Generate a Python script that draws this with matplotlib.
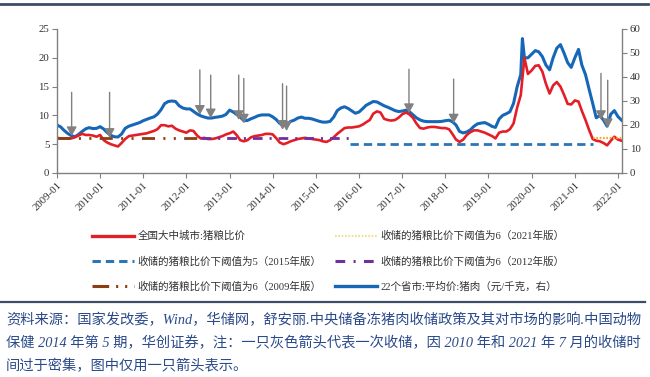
import matplotlib
matplotlib.use('Agg')
import matplotlib.pyplot as plt
import matplotlib.dates as mdates
from matplotlib.lines import Line2D
import pandas as pd

plt.rcParams['lines.scale_dashes'] = False
SERIF = ['Liberation Serif', 'Noto Sans CJK SC', 'DejaVu Sans']
CJK = ['Liberation Serif', 'Noto Sans CJK SC', 'DejaVu Sans']

# ---------------- data (monthly, 2009-01 .. 2022-02) ----------------
months = pd.date_range('2009-01-01', '2022-02-01', freq='MS')

ratio = [  # 全国大中城市:猪粮比价 (left axis)
    6.1, 6.0, 6.0, 6.0, 6.0, 6.2, 6.5, 6.8, 6.6, 6.6, 6.5, 6.3,       # 2009
    6.6, 5.7, 5.3, 5.0, 4.8, 4.6, 5.2, 5.9, 6.4, 6.5, 6.6, 6.7,       # 2010
    6.8, 6.9, 7.1, 7.3, 7.6, 8.3, 8.3, 8.1, 8.2, 7.7, 7.4, 7.2,       # 2011
    7.0, 7.4, 7.3, 6.5, 6.0, 6.1, 5.9, 5.9, 6.0, 6.2, 6.4, 6.7,       # 2012
    6.9, 7.2, 6.6, 5.7, 5.5, 5.7, 6.2, 6.4, 6.5, 6.6, 6.8, 6.8,       # 2013
    6.7, 6.0, 5.3, 5.0, 5.2, 5.5, 5.7, 5.9, 6.0, 6.1, 6.0, 5.9,       # 2014
    5.8, 5.7, 5.5, 5.4, 5.7, 6.2, 6.8, 7.3, 7.8, 7.9, 7.9, 8.0,       # 2015
    8.1, 8.4, 8.8, 9.2, 10.3, 10.7, 10.5, 9.4, 9.2, 9.1, 9.2, 9.6,    # 2016
    10.2, 10.5, 10.2, 9.6, 8.6, 7.8, 7.7, 7.9, 8.0, 8.0, 7.9, 7.8,    # 2017
    7.8, 7.6, 6.8, 5.8, 5.4, 5.8, 6.6, 7.1, 7.4, 7.4, 7.2, 7.0,       # 2018
    6.7, 6.4, 6.0, 7.0, 7.2, 7.2, 7.6, 8.6, 11.4, 13.5, 20.0, 17.2,   # 2019
    17.8, 18.6, 18.7, 17.6, 15.5, 13.8, 15.2, 15.8, 15.0, 13.6, 12.0, 11.9,  # 2020
    12.6, 12.4, 10.8, 9.2, 7.5, 5.9, 5.6, 5.5, 5.2, 4.8, 5.6, 6.3,    # 2021
    5.8, 5.6,                                                         # 2022
]
pork = [  # 22个省市:平均价:猪肉 (元/千克, right axis)
    20.0, 19.2, 17.8, 16.5, 15.6, 15.1, 16.0, 17.3, 18.4, 18.9, 18.5, 18.6,
    19.3, 18.3, 16.9, 15.7, 15.1, 15.0, 16.2, 18.6, 19.5, 20.0, 20.5, 21.0,
    21.8, 22.4, 22.9, 23.4, 24.5, 26.4, 28.9, 29.8, 30.0, 29.8, 28.0, 27.1,
    26.7, 26.7, 25.7, 24.6, 23.8, 23.3, 22.9, 22.9, 23.2, 23.4, 23.7, 24.4,
    26.2, 25.4, 24.4, 23.3, 21.8, 21.9, 22.6, 23.2, 23.9, 24.2, 24.2, 24.2,
    23.4, 22.2, 20.7, 19.7, 20.2, 21.5, 22.0, 22.9, 23.3, 22.8, 22.8, 22.5,
    22.0, 21.5, 21.2, 21.2, 21.5, 23.3, 26.0, 27.1, 27.6, 26.9, 25.9, 24.9,
    25.4, 26.8, 28.2, 29.0, 29.8, 29.6, 28.8, 28.0, 27.4, 26.7, 26.0, 25.6,
    25.8, 26.2, 25.6, 24.3, 23.0, 22.1, 21.6, 21.4, 21.4, 21.4, 21.4, 21.5,
    21.8, 22.0, 21.4, 20.0, 17.3, 16.7, 17.1, 18.0, 19.5, 20.5, 20.8, 21.0,
    20.3, 19.4, 19.0, 22.5, 24.0, 24.7, 25.5, 29.0, 36.0, 41.0, 48.0, 48.0,
    49.5, 51.0, 50.5, 48.5, 45.0, 43.0, 48.0, 52.0, 53.5, 50.0, 46.0, 44.0,
    48.0, 51.5, 45.0, 41.0, 35.0, 29.0, 23.0, 24.0, 22.0, 19.5, 24.5, 26.0,
    23.5, 22.0,
]
spike_date = '2019-10-15'   # the Oct-2019 peak between monthly readings
ratio_spike = 16.5
pork_spike = 56.0

# 收储的猪粮比价下阈值 (start, end, value)
th_2009 = ('2009-01-01', '2012-04-20', 6)
th_2012 = ('2012-05-01', '2015-10-10', 6)
th_2015 = ('2015-10-20', '2021-06-05', 5)
th_2021 = ('2021-06-05', '2022-02-01', 6)

# 收储 arrows (date, top, tip) in left-axis units
arrow_dates = ['2009-05-05', '2010-03-22', '2012-04-24', '2012-07-25', '2013-03-19',
               '2013-05-01', '2014-03-25', '2014-04-28', '2017-02-27', '2018-03-12',
               '2021-08-10', '2021-10-06']
arrow_top = [14.0, 14.0, 17.9, 17.0, 17.0, 16.4, 15.5, 15.1, 18.0, 16.3, 17.3, 16.1]
arrow_tip = [6.4, 6.1, 10.1, 9.5, 9.2, 8.6, 7.5, 7.3, 10.4, 8.6, 9.2, 7.8]

labels = ['全国大中城市:猪粮比价',
          '收储的猪粮比价下阈值为5（2015年版）',
          '收储的猪粮比价下阈值为6（2009年版）',
          '收储的猪粮比价下阈值为6（2021年版）',
          '收储的猪粮比价下阈值为6（2012年版）',
          '22个省市:平均价:猪肉（元/千克，右）']

source_lines = ['资料来源：国家发改委，Wind，华储网，舒安丽.中央储备冻猪肉收储政策及其对市场的影响.中国动物',
                '保健 2014 年第 5 期，华创证券，注：一只灰色箭头代表一次收储，因 2010 年和 2021 年 7 月的收储时',
                '间过于密集，图中仅用一只箭头表示。']

# ---------------- build series ----------------
df = pd.DataFrame({'date': list(months) + [pd.Timestamp(spike_date)],
                   'ratio': ratio + [ratio_spike],
                   'pork': pork + [pork_spike]}).sort_values('date')

RED = '#E41E26'
BLUE = '#1767B8'
DBLUE = '#2E75B6'
PURPLE = '#7030A0'
BROWN = '#8B3E12'
ORANGE = '#F5A623'
GRAY = '#808080'

fig = plt.figure(figsize=(6.5, 3.77), dpi=100)
ax = fig.add_axes([57 / 650, 1 - 173 / 377, 565 / 650, 144 / 377])
ax2 = ax.twinx()
ax.set_zorder(ax2.get_zorder() + 1)
ax.patch.set_visible(False)

ax2.plot(df['date'], df['pork'], color=BLUE, lw=2.2, solid_joinstyle='round')
ax.plot(df['date'], df['ratio'], color=RED, lw=1.9, solid_joinstyle='round')

def th_line(spec, **kw):
    s, e, v = spec
    return ax.plot([pd.Timestamp(s), pd.Timestamp(e)], [v, v], **kw)[0]

th_line(th_2009, color=BROWN, lw=2.0, dashes=(9.4, 6, 1.5, 6, 1.5, 6))
th_line(th_2012, color=PURPLE, lw=2.0, dashes=(7, 5, 1.5, 5))
th_line(th_2015, color=DBLUE, lw=2.0, dashes=(6, 3.6))
th_line(th_2021, color=ORANGE, lw=1.6, dashes=(1.2, 1.2))

for d, t, b in zip(arrow_dates, arrow_top, arrow_tip):
    ax.annotate('', xy=(pd.Timestamp(d), b), xytext=(pd.Timestamp(d), t),
                arrowprops=dict(arrowstyle='-|>,head_width=0.3,head_length=0.55',
                                mutation_scale=10, color=GRAY, lw=1.0,
                                shrinkA=0, shrinkB=0), zorder=5)

ax.set_xlim(pd.Timestamp('2009-01-01'), pd.Timestamp('2022-02-04'))
ax.set_ylim(0, 25)
ax2.set_ylim(0, 60)
ax.set_yticks([0, 5, 10, 15, 20, 25])
ax2.set_yticks([0, 10, 20, 30, 40, 50, 60])
ax.xaxis.set_major_locator(mdates.YearLocator(1, month=1, day=1))
ax.xaxis.set_major_formatter(mdates.DateFormatter('%Y-%m'))

for a in (ax, ax2):
    for sp in a.spines.values():
        sp.set_color(GRAY)
        sp.set_linewidth(1.0)
    a.spines['top'].set_visible(False)
ax.spines['right'].set_visible(False)
ax2.spines['left'].set_visible(False)
ax2.spines['bottom'].set_visible(False)

ax.tick_params(axis='both', direction='out', length=3.5, color=GRAY, labelsize=7.8,
               labelcolor='#333333', pad=2)
ax2.tick_params(axis='y', direction='out', length=3.5, color=GRAY, labelsize=7.8,
                labelcolor='#333333', pad=2)
for lab in ax.get_yticklabels() + ax2.get_yticklabels():
    lab.set_family(SERIF)
for lab in ax.get_xticklabels():
    lab.set_family(SERIF)
    lab.set_rotation(45)
    lab.set_ha('right')
    lab.set_va('top')
    lab.set_rotation_mode('anchor')

# legend
h_red = Line2D([], [], color=RED, lw=2.4)
h15 = Line2D([], [], color=DBLUE, lw=2.2, dashes=(6, 3.6))
h09 = Line2D([], [], color=BROWN, lw=2.2, dashes=(12, 5, 1.5, 5, 1.5, 5))
h21 = Line2D([], [], color='#F0E08A', lw=1.6, dashes=(1.2, 1.2))
h12 = Line2D([], [], color=PURPLE, lw=2.2, dashes=(7, 6, 1.5, 6))
h_blue = Line2D([], [], color=BLUE, lw=2.4)
fig.legend([h_red, h15, h09, h21, h12, h_blue], labels, ncol=2, frameon=False,
           loc='upper left', bbox_to_anchor=(92 / 650, 1 - 231 / 377),
           prop={'family': CJK, 'size': 7.6}, handlelength=4.0, handletextpad=0.3,
           columnspacing=1.3, labelspacing=1.4, borderpad=0, borderaxespad=0,
           labelcolor='#333333')

# decorations
fig.add_artist(Line2D([0, 0.997], [1 - 4 / 377, 1 - 4 / 377], transform=fig.transFigure,
                      color='#3B4E63', lw=2))
fig.add_artist(Line2D([0, 0.993], [1 - 302 / 377, 1 - 302 / 377], transform=fig.transFigure,
                      color='#3B4E63', lw=1.6))
for txt, yy in zip(source_lines, [320, 343, 366]):
    fig.text(6 / 650, 1 - yy / 377, txt, ha='left', va='center', fontsize=10.3,
             family=SERIF, style='italic', color='#2B4A8A')

fig.savefig('out.png', dpi=100)
